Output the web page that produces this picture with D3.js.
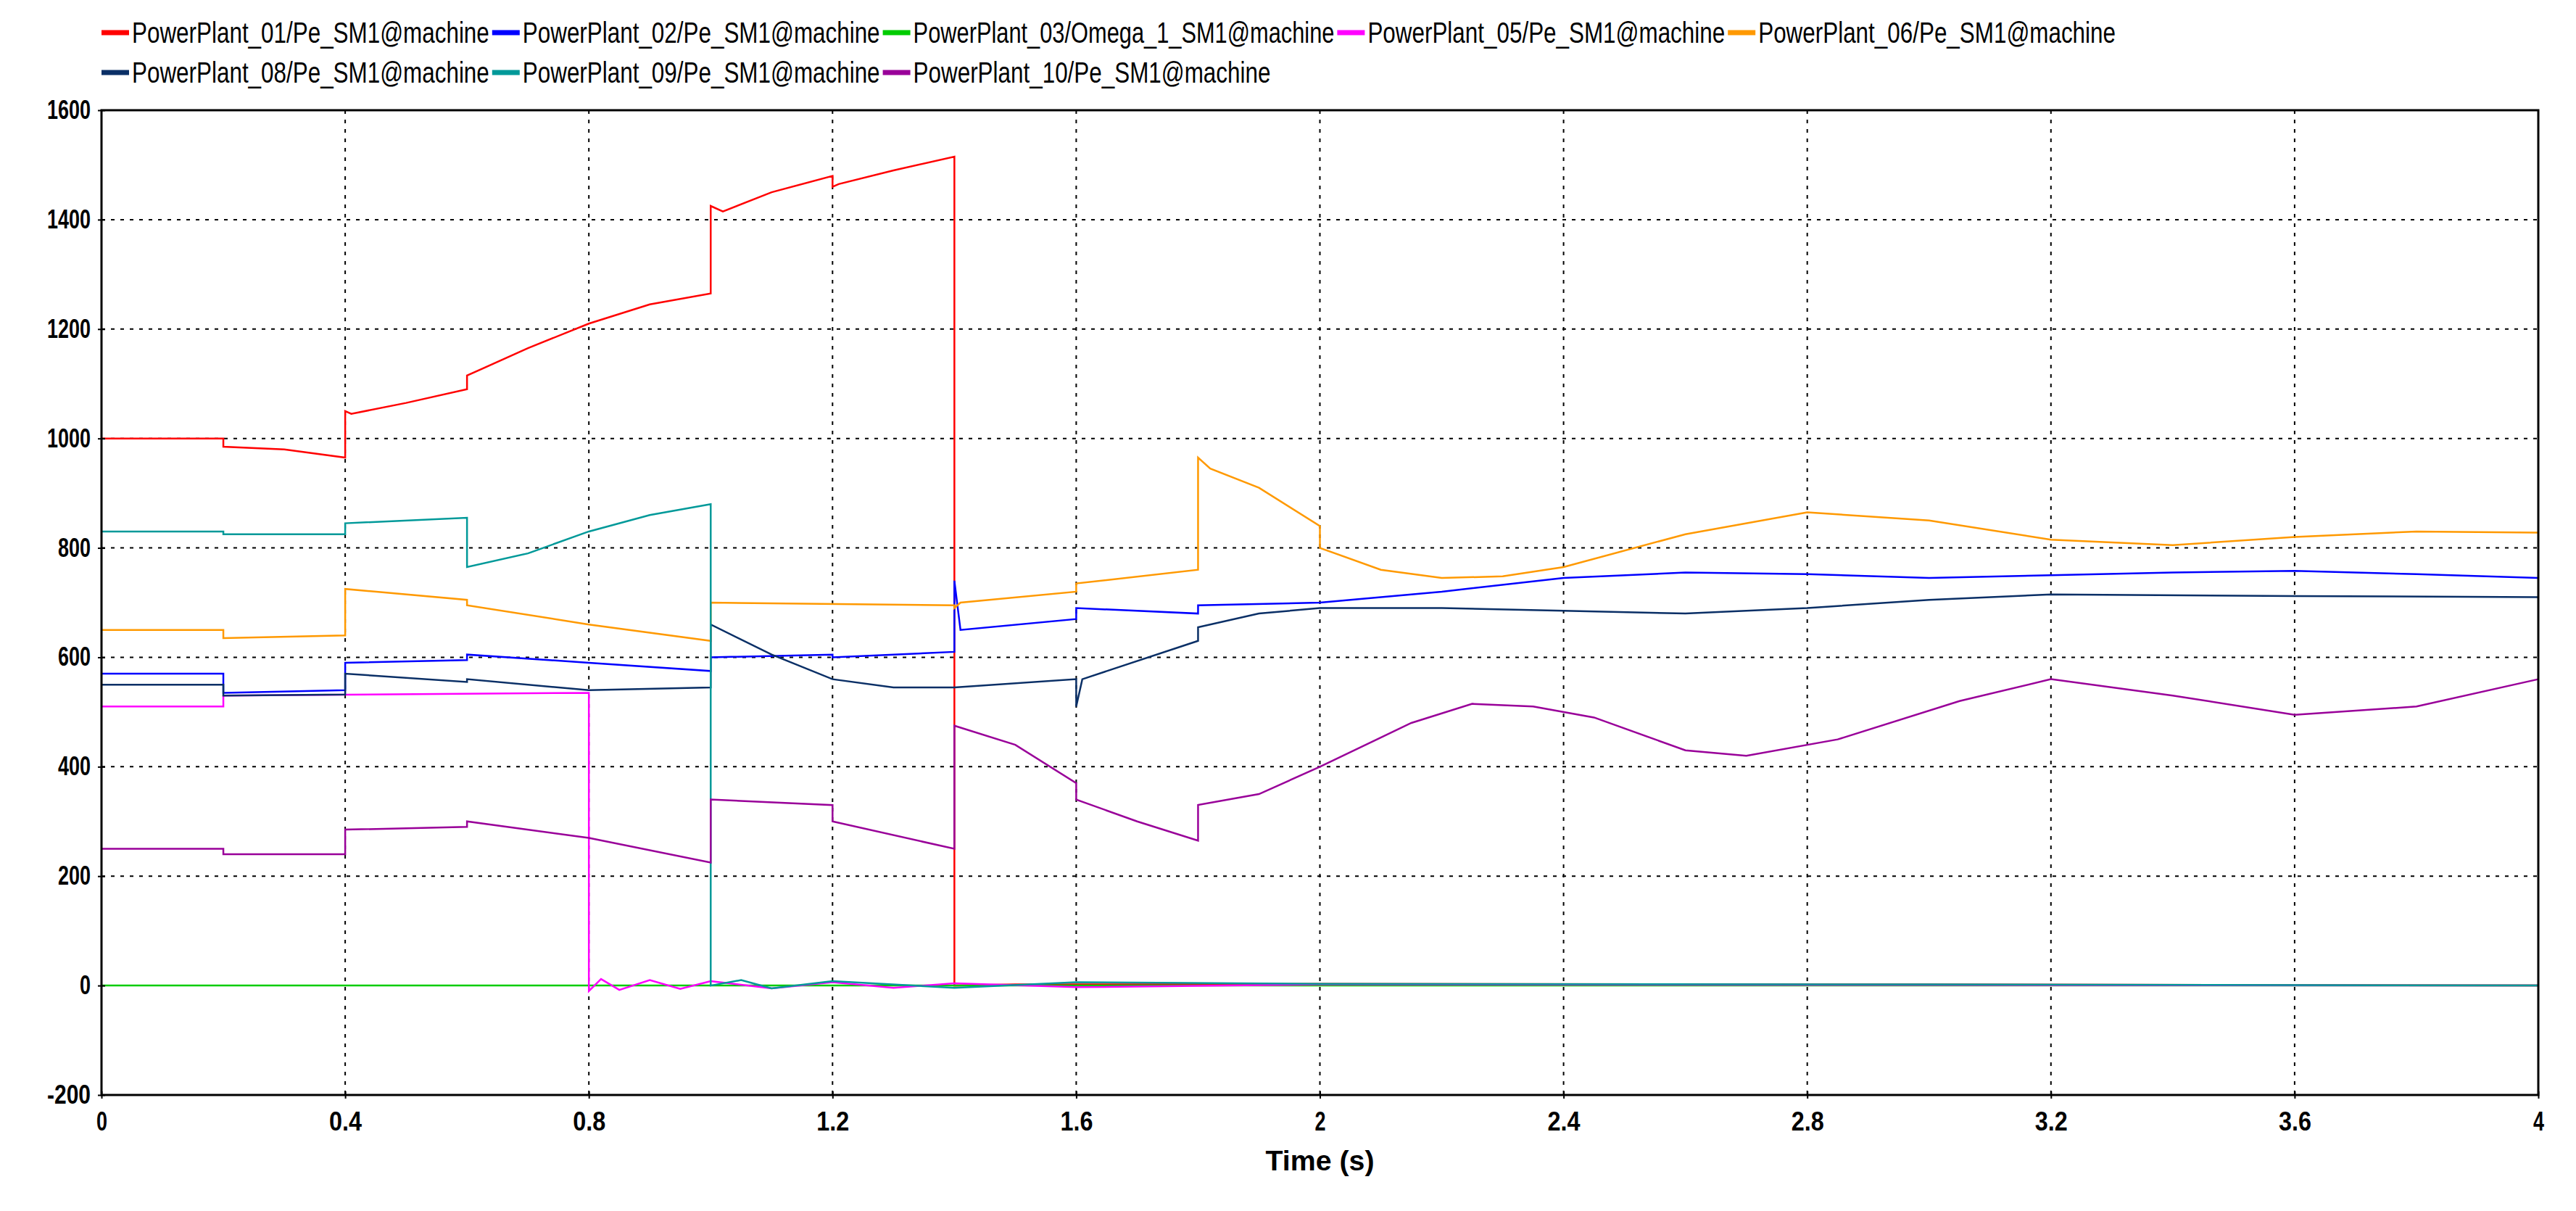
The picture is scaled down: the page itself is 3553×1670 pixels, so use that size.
<!DOCTYPE html>
<html><head><meta charset="utf-8">
<script src="https://cdn.jsdelivr.net/npm/d3@7"></script>
<style>body{margin:0;background:#fff}svg{display:block}</style>
</head><body><svg id="c" width="3553" height="1670"></svg>
<script>
const names = ["PowerPlant_01/Pe_SM1@machine","PowerPlant_02/Pe_SM1@machine","PowerPlant_03/Omega_1_SM1@machine","PowerPlant_05/Pe_SM1@machine","PowerPlant_06/Pe_SM1@machine","PowerPlant_08/Pe_SM1@machine","PowerPlant_09/Pe_SM1@machine","PowerPlant_10/Pe_SM1@machine"];
const colors = ["#ff0000","#0000ff","#00cc00","#ff00ff","#ff9900","#0a2f66","#009999","#990099"];
const xTicks = [0,0.4,0.8,1.2,1.6,2,2.4,2.8,3.2,3.6,4];
const yTicks = [-200,0,200,400,600,800,1000,1200,1400,1600];

const t01 = [0,0.2,0.2,0.3,0.4,0.4,0.41,0.5,0.6,0.6,0.7,0.8,0.9,1.0,1.0,1.02,1.1,1.2,1.2,1.21,1.3,1.4,1.4,1.5,2,3,4];
const v01 = [1000,1000,985,980,965,1050,1045,1065,1090,1115,1165,1210,1245,1265,1425,1415,1450,1480,1460,1465,1490,1515,0,2,3,2,0];
const t02 = [0,0.2,0.2,0.4,0.4,0.6,0.6,0.8,1.0,1.0,1.2,1.2,1.4,1.4,1.41,1.6,1.6,1.8,1.8,2.0,2.2,2.4,2.6,2.8,3.0,3.2,3.4,3.6,3.8,4.0];
const v02 = [570,570,535,540,590,595,605,590,575,600,605,600,610,740,650,670,690,680,695,700,720,745,755,752,745,750,755,758,752,745];
const t03 = [0,4];
const v03 = [0,0];
const t05 = [0,0.2,0.2,0.8,0.8,0.82,0.85,0.9,0.95,1.0,1.1,1.2,1.3,1.4,1.6,2,3,4];
const v05 = [510,510,530,535,-10,12,-8,10,-6,8,-5,6,-4,4,-3,2,1,0];
const t06 = [0,0.2,0.2,0.4,0.4,0.6,0.6,0.8,1.0,1.0,1.4,1.4,1.41,1.6,1.6,1.8,1.8,1.82,1.9,2.0,2.0,2.1,2.2,2.3,2.4,2.6,2.8,3.0,3.2,3.4,3.6,3.8,4.0];
const v06 = [650,650,635,640,725,705,695,660,630,700,695,690,700,720,735,760,965,945,910,840,800,760,745,748,765,825,865,850,815,805,820,830,828];
const t08 = [0,0.2,0.2,0.4,0.4,0.6,0.6,0.8,1.0,1.0,1.1,1.2,1.3,1.4,1.4,1.6,1.6,1.61,1.8,1.8,1.9,2.0,2.2,2.4,2.6,2.8,3.0,3.2,3.6,4.0];
const v08 = [550,550,530,532,570,555,560,540,545,660,605,560,545,545,545,560,510,560,630,655,680,690,690,685,680,690,705,715,712,710];
const t09 = [0,0.2,0.2,0.4,0.4,0.6,0.6,0.7,0.8,0.9,1.0,1.0,1.05,1.1,1.2,1.4,1.6,2,3,4];
const v09 = [830,830,825,825,845,855,765,790,830,860,880,0,10,-5,8,-4,6,3,2,0];
const t10 = [0,0.2,0.2,0.4,0.4,0.6,0.6,0.8,1.0,1.0,1.2,1.2,1.4,1.4,1.5,1.6,1.6,1.7,1.8,1.8,1.9,2.0,2.15,2.25,2.35,2.45,2.6,2.7,2.85,3.05,3.2,3.4,3.6,3.8,4.0];
const v10 = [250,250,240,240,285,290,300,270,225,340,330,300,250,475,440,370,340,300,265,330,350,400,480,515,510,490,430,420,450,520,560,530,495,510,560];
const seriesT = [t01,t02,t03,t05,t06,t08,t09,t10];
const seriesV = [v01,v02,v03,v05,v06,v08,v09,v10];

const svg = d3.select("#c");
const L=140,R=3501,T=152,B=1510;
const x = d3.scaleLinear().domain([0,4]).range([L,R]);
const y = d3.scaleLinear().domain([-200,1600]).range([B,T]);
const font = "'Liberation Sans','Arial',sans-serif";

svg.append("g").selectAll("line").data(xTicks.slice(1,-1)).join("line")
 .attr("x1",d=>x(d)).attr("x2",d=>x(d)).attr("y1",T).attr("y2",B)
 .attr("stroke","#000").attr("stroke-width",2).attr("stroke-dasharray","5,8");
svg.append("g").selectAll("line").data(yTicks.slice(1,-1)).join("line")
 .attr("y1",d=>y(d)).attr("y2",d=>y(d)).attr("x1",L).attr("x2",R)
 .attr("stroke","#000").attr("stroke-width",2).attr("stroke-dasharray","5,8");

const line = d3.line().x(d=>x(d[0])).y(d=>y(d[1]));
seriesT.forEach((ts,i)=>{
  svg.append("path").datum(ts.map((t,j)=>[t,seriesV[i][j]]))
   .attr("d",line).attr("fill","none").attr("stroke",colors[i]).attr("stroke-width",2.5);
});

svg.append("rect").attr("x",L).attr("y",T).attr("width",R-L).attr("height",B-T)
 .attr("fill","none").attr("stroke","#000").attr("stroke-width",3);

const xa = svg.append("g").attr("transform",`translate(0,${B})`)
 .call(d3.axisBottom(x).tickValues(xTicks).tickFormat(d=>String(d)).tickSize(10).tickSizeOuter(0));
const ya = svg.append("g").attr("transform",`translate(${L},0)`)
 .call(d3.axisLeft(y).tickValues(yTicks).tickFormat(d=>String(d)).tickSize(10).tickSizeOuter(0));
[xa,ya].forEach(a=>{a.select(".domain").remove();
 a.selectAll("line").attr("stroke","#000").attr("stroke-width",2);
 a.selectAll("text").attr("font-family",font).attr("font-weight","bold").attr("font-size",36).attr("fill","#000")
  .attr("textLength",function(){return this.textContent.length*15;}).attr("lengthAdjust","spacingAndGlyphs");});
xa.selectAll("line").attr("transform","translate(0,-5)");
xa.selectAll("text").attr("dy","1.0em");
ya.selectAll("line").attr("transform","translate(5,0)");
ya.selectAll("text").attr("dx","-2");

svg.append("text").attr("x",(L+R)/2).attr("y",1614).attr("text-anchor","middle")
 .attr("font-family",font).attr("font-weight","bold").attr("font-size",38)
 .attr("textLength",150).attr("lengthAdjust","spacingAndGlyphs").text("Time (s)");

const rows=[[0,1,2,3,4],[5,6,7]];
rows.forEach((r,ri)=>{
  let cx=140; const cy=ri===0?45:100;
  r.forEach(i=>{
    svg.append("line").attr("x1",cx).attr("x2",cx+38).attr("y1",cy).attr("y2",cy)
      .attr("stroke",colors[i]).attr("stroke-width",7);
    const w = names[i].length*17.6;
    svg.append("text").attr("x",cx+42).attr("y",cy+14).attr("font-family",font)
      .attr("font-size",40).attr("fill","#000")
      .attr("textLength",w).attr("lengthAdjust","spacingAndGlyphs").text(names[i]);
    cx += 42 + w + 4;
  });
});
</script></body></html>
